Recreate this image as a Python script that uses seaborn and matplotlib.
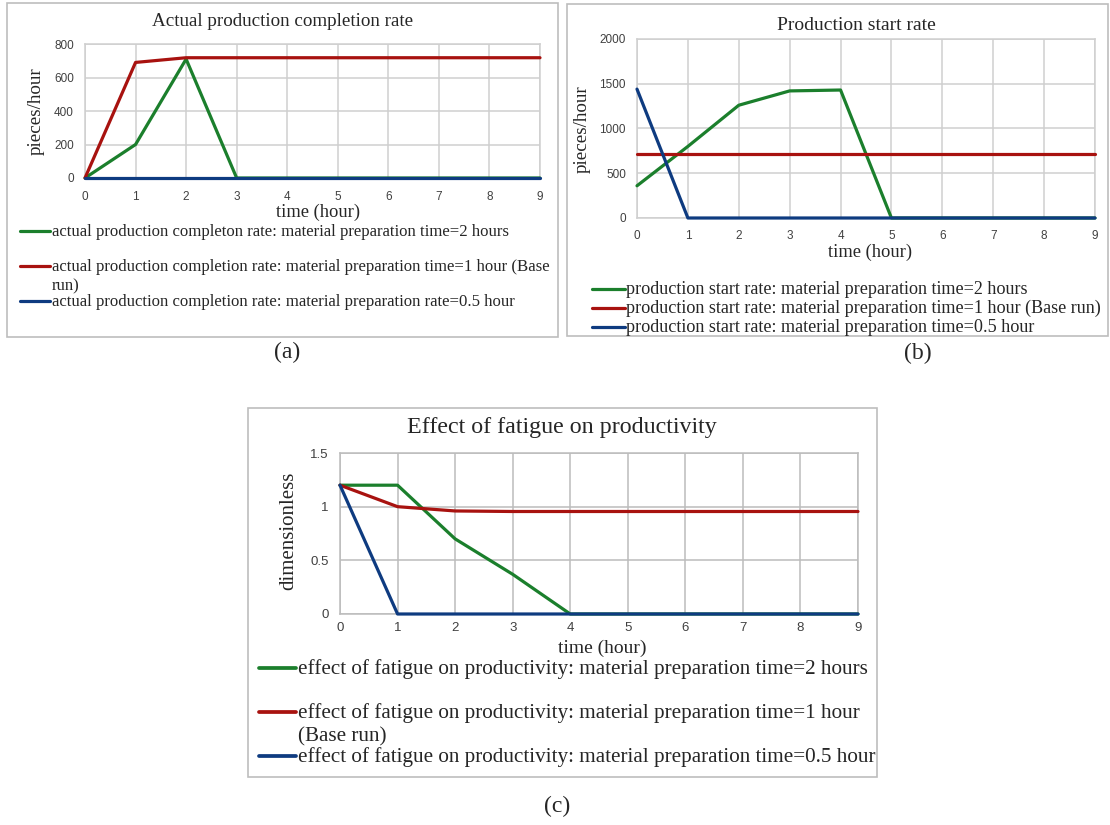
import pandas as pd
import seaborn as sns
import matplotlib.pyplot as plt
from matplotlib.lines import Line2D
from matplotlib.patches import Rectangle

# time axis, hours
time_hour = [0, 1, 2, 3, 4, 5, 6, 7, 8, 9]

# (a) actual production completion rate, pieces/hour
compl_2h = [0, 200, 710, 0, 0, 0, 0, 0, 0, 0]
compl_1h = [0, 690, 718, 718, 718, 718, 718, 718, 718, 718]
compl_05h = [0, 0, 0, 0, 0, 0, 0, 0, 0, 0]

# (b) production start rate, pieces/hour
start_2h = [360, 800, 1260, 1420, 1430, 0, 0, 0, 0, 0]
start_1h = [710, 710, 710, 710, 710, 710, 710, 710, 710, 710]
start_05h = [1440, 0, 0, 0, 0, 0, 0, 0, 0, 0]

# (c) effect of fatigue on productivity, dimensionless
fatigue_2h = [1.2, 1.2, 0.7, 0.37, 0, 0, 0, 0, 0, 0]
fatigue_1h = [1.2, 1.0, 0.96, 0.955, 0.955, 0.955, 0.955, 0.955, 0.955, 0.955]
fatigue_05h = [1.2, 0, 0, 0, 0, 0, 0, 0, 0, 0]

labels_a = ["actual production completon rate: material preparation time=2 hours",
            "actual production completion rate: material preparation time=1 hour (Base\nrun)",
            "actual production completion rate: material preparation rate=0.5 hour"]
labels_b = ["production start rate: material preparation time=2 hours",
            "production start rate: material preparation time=1 hour (Base run)",
            "production start rate: material preparation time=0.5 hour"]
labels_c = ["effect of fatigue on productivity: material preparation time=2 hours",
            "effect of fatigue on productivity: material preparation time=1 hour\n(Base run)",
            "effect of fatigue on productivity: material preparation time=0.5 hour"]

colors = ["#1b7f2c", "#a8120f", "#0e3b80"]

sns.set_theme(style="white")
plt.rcParams['font.family'] = ['Liberation Serif', 'DejaVu Serif']

W, H = 1110, 825
fig = plt.figure(figsize=(W / 100, H / 100), dpi=100)


def fx(x):
    return x / W


def fy(y):
    return 1 - y / H


def box(x0, y0, x1, y1):
    fig.add_artist(Rectangle((fx(x0), fy(y1)), fx(x1 - x0), (y1 - y0) / H,
                             transform=fig.transFigure, fill=False,
                             edgecolor="#bdbdbd", lw=1.2))


def panel(rect, series, ymax, ystep, title, ylabel, tsize, lsize, ticksize,
          title_y, xlab_y, ylab_x, gridc="#cfcfcf", pad=9):
    x0, y0, x1, y1 = rect
    ax = fig.add_axes([fx(x0), fy(y1), fx(x1 - x0), (y1 - y0) / H])
    for vals, c in zip(series, colors):
        df = pd.DataFrame({"time": time_hour, "value": vals})
        sns.lineplot(data=df, x="time", y="value", ax=ax, color=c, lw=2.3,
                     zorder=3, clip_on=False)
    ax.set_xlim(0, 9)
    ax.set_ylim(0, ymax)
    ax.set_xticks(time_hour)
    yt = [i * ystep for i in range(int(round(ymax / ystep)) + 1)]
    ax.set_yticks(yt)
    ax.set_yticklabels([f"{v:g}" for v in yt])
    ax.grid(True, color=gridc, lw=1.1)
    for s in ax.spines.values():
        s.set_color(gridc)
        s.set_linewidth(1.1)
    ax.tick_params(length=0, labelsize=ticksize, labelcolor="#404040")
    ax.tick_params(axis="x", pad=pad)
    ax.tick_params(axis="y", pad=8)
    for t in ax.get_xticklabels() + ax.get_yticklabels():
        t.set_fontfamily(["Liberation Sans", "DejaVu Sans"])
    ax.set_xlabel("")
    ax.set_ylabel("")
    fig.text(fx((x0 + x1) / 2 + xlab_y[1]), fy(xlab_y[0]), "time (hour)",
             fontsize=lsize, ha="center", va="center")
    fig.text(fx(ylab_x[0]), fy(ylab_x[1]), ylabel, rotation=90, fontsize=ylab_x[2],
             ha="center", va="center")
    fig.text(fx((x0 + x1) / 2 + title[1]), fy(title_y), title[0], fontsize=tsize,
             ha="center", va="center")
    return ax


def legend(rows, labels, xline, xtext, size, lw=2.3, ls=1.15):
    off = size * 100 / 72 * 0.44
    for y, lab, c in zip(rows, labels, colors):
        fig.add_artist(Line2D([fx(xline[0]), fx(xline[1])], [fy(y), fy(y)],
                              transform=fig.transFigure, color=c, lw=lw))
        fig.text(fx(xtext), fy(y - off), lab, fontsize=size, ha="left", va="top",
                 linespacing=ls)


# panel (a)
box(7, 3, 558, 337)
panel((85, 44, 540, 178), [compl_2h, compl_1h, compl_05h], 800, 200,
      ("Actual production completion rate", -30), "pieces/hour",
      13.7, 13.3, 8.5, 22, (212, 6), (36, 111, 13.7))
legend([231, 266, 301], labels_a, (20, 50), 52, 12.1, ls=1.33)

# panel (b)
box(567, 4, 1108, 336)
panel((637, 39, 1095, 218), [start_2h, start_1h, start_05h], 2000, 500,
      ("Production start rate", -10), "pieces/hour",
      14, 13.3, 8.5, 25, (252, 4), (582, 129, 13.7))
legend([289, 308, 327], labels_b, (592, 625), 626, 13.1)

# panel (c)
box(248, 408, 877, 777)
panel((340, 453, 858, 614), [fatigue_2h, fatigue_1h, fatigue_05h], 1.5, 0.5,
      ("Effect of fatigue on productivity", -37), "dimensionless",
      17.3, 14, 9.5, 427, (648, 3), (289, 531, 15), gridc="#bcbcbc", pad=6)
legend([668, 712, 756], labels_c, (259, 296), 298, 15.2, lw=2.7, ls=1.35)

# captions
for txt, x, y in [("(a)", 287, 352), ("(b)", 918, 353), ("(c)", 557, 806)]:
    fig.text(fx(x), fy(y), txt, fontsize=17, ha="center", va="center")

fig.savefig("out.png", dpi=100)
